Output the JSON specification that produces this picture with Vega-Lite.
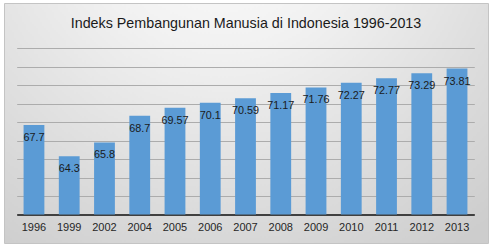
{
  "$schema": "https://vega.github.io/schema/vega-lite/v6.json",
  "width": 484,
  "height": 240,
  "autosize": {"type": "none"},
  "padding": {"left": 4, "top": 3, "right": 3, "bottom": 6},
  "background": "#ffffff",
  "title": {
    "text": "Indeks Pembangunan Manusia di Indonesia 1996-2013",
    "frame": "group",
    "anchor": "middle",
    "orient": "top",
    "baseline": "middle",
    "offset": -35,
    "font": "Liberation Sans",
    "fontSize": 14.3,
    "fontWeight": "normal",
    "color": "#1a1a1a"
  },
  "config": {
    "view": {
      "stroke": "#c4c4c4",
      "strokeWidth": 1,
      "fill": {
        "gradient": "radial",
        "x1": 0.45, "y1": 0.05, "r1": 0,
        "x2": 0.45, "y2": 0.05, "r2": 0.85,
        "stops": [
          {"offset": 0, "color": "#fefefe"},
          {"offset": 0.35, "color": "#f1f1f1"},
          {"offset": 1, "color": "#cdcdcd"}
        ]
      }
    }
  },
  "data": {
    "values": [
      {"year": "1996", "ipm": 67.7, "label": "67.7"},
      {"year": "1999", "ipm": 64.3, "label": "64.3"},
      {"year": "2002", "ipm": 65.8, "label": "65.8"},
      {"year": "2004", "ipm": 68.7, "label": "68.7"},
      {"year": "2005", "ipm": 69.57, "label": "69.57"},
      {"year": "2006", "ipm": 70.1, "label": "70.1"},
      {"year": "2007", "ipm": 70.59, "label": "70.59"},
      {"year": "2008", "ipm": 71.17, "label": "71.17"},
      {"year": "2009", "ipm": 71.76, "label": "71.76"},
      {"year": "2010", "ipm": 72.27, "label": "72.27"},
      {"year": "2011", "ipm": 72.77, "label": "72.77"},
      {"year": "2012", "ipm": 73.29, "label": "73.29"},
      {"year": "2013", "ipm": 73.81, "label": "73.81"}
    ]
  },
  "encoding": {
    "x": {
      "field": "year",
      "type": "ordinal",
      "sort": null,
      "scale": {"range": [12.7, 470.3], "paddingInner": 0.41, "paddingOuter": 0.195},
      "axis": {
        "title": null,
        "labelAngle": 0,
        "offset": -28.5,
        "ticks": false,
        "labelPadding": 7,
        "labelFont": "Liberation Sans",
        "labelFontSize": 11,
        "labelColor": "#262626",
        "domainColor": "#404040",
        "domainWidth": 2,
        "grid": false
      }
    },
    "y": {
      "field": "ipm",
      "type": "quantitative",
      "scale": {"domain": [54.91, 80.91], "nice": false, "zero": false},
      "axis": {
        "title": null,
        "values": [58, 60, 62, 64, 66, 68, 70, 72, 74, 76],
        "labels": false,
        "ticks": false,
        "domain": false,
        "grid": true,
        "gridColor": "#acacac",
        "gridWidth": 1
      }
    }
  },
  "layer": [
    {
      "mark": {"type": "bar", "color": "#5b9bd5"},
      "encoding": {"y2": {"datum": 58}}
    },
    {
      "mark": {
        "type": "text",
        "baseline": "middle",
        "align": "center",
        "dy": 13,
        "font": "Liberation Sans",
        "fontSize": 10.8,
        "color": "#1a1a1a"
      },
      "encoding": {"text": {"field": "label", "type": "nominal"}}
    }
  ]
}
